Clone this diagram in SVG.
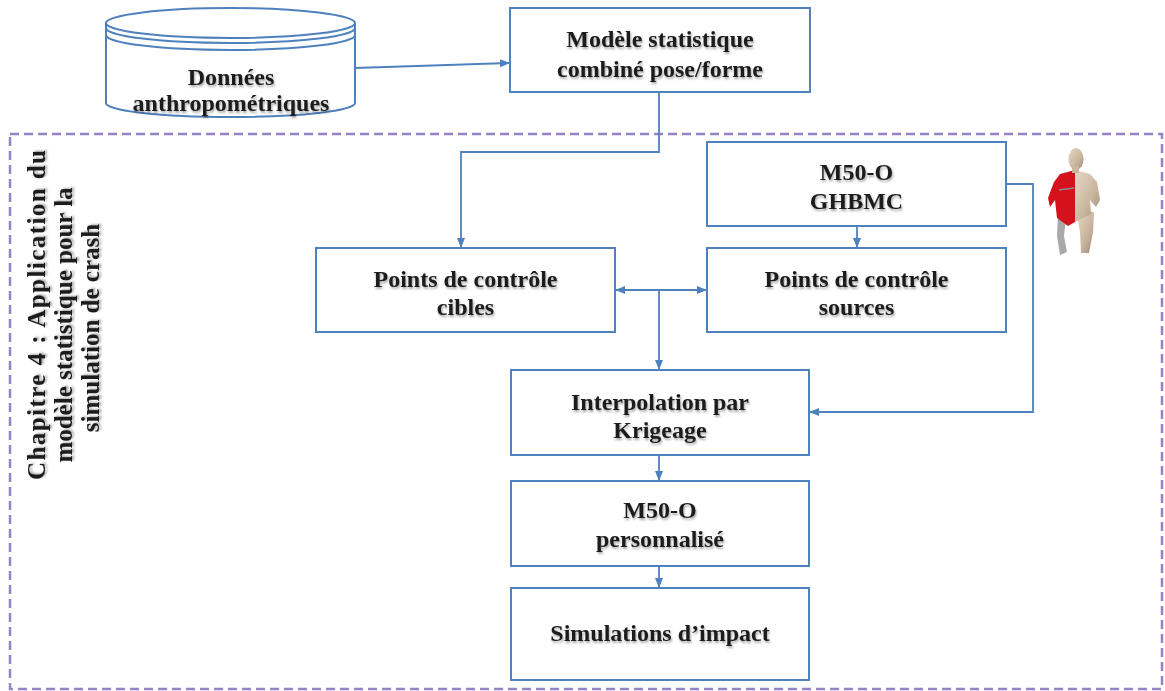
<svg xmlns="http://www.w3.org/2000/svg" width="1165" height="691" viewBox="0 0 1165 691">
  <defs>
    <style>
      .box{fill:#fff;stroke:#4f81bd;stroke-width:2}
      .lbl{font-family:"Liberation Serif","DejaVu Serif",serif;font-weight:bold;font-size:24px;fill:#1c1c1c;text-anchor:middle;filter:url(#shadow)}
      .side{font-size:25px}
      .conn{fill:none;stroke:#4f81bd;stroke-width:1.8}
      .frame{fill:none;stroke:#9583c6;stroke-width:2.5;stroke-dasharray:9 5}
    </style>
    <filter id="shadow" x="-10%" y="-30%" width="120%" height="160%">
      <feDropShadow dx="1" dy="2" stdDeviation="1.2" flood-color="#000" flood-opacity="0.35"/>
    </filter>
    <marker id="arrow" viewBox="0 0 10 8" refX="9" refY="4" markerWidth="10" markerHeight="8" markerUnits="userSpaceOnUse" orient="auto-start-reverse">
      <path d="M0,0 L10,4 L0,8 z" fill="#4f81bd"/>
    </marker>
    <linearGradient id="skin" x1="0" y1="0" x2="1" y2="1">
      <stop offset="0" stop-color="#e6d9c8"/>
      <stop offset="0.6" stop-color="#c9b59d"/>
      <stop offset="1" stop-color="#9c8770"/>
    </linearGradient>
  </defs>

  <!-- chapter frame -->
  <rect class="frame" x="10" y="134" width="1152" height="555"/>
  <g id="chapter-label">
    <text class="lbl side" transform="translate(45,315) rotate(-90)" textLength="330" lengthAdjust="spacing">Chapitre 4 : Application du</text>
    <text class="lbl side" transform="translate(72,325) rotate(-90)">modèle statistique pour la</text>
    <text class="lbl side" transform="translate(99,328) rotate(-90)">simulation de crash</text>
  </g>

  <!-- connectors -->
  <g id="connectors">
    <path class="conn" d="M355,68 L509,63" marker-end="url(#arrow)"/>
    <path class="conn" d="M659,92 V152 H461 V247" marker-end="url(#arrow)"/>
    <path class="conn" d="M857,226 V247" marker-end="url(#arrow)"/>
    <path class="conn" d="M616,290 H706" marker-start="url(#arrow)" marker-end="url(#arrow)"/>
    <path class="conn" d="M659,290 V369" marker-end="url(#arrow)"/>
    <path class="conn" d="M1006,184 H1033 V412 H810" marker-end="url(#arrow)"/>
    <path class="conn" d="M659,455 V480" marker-end="url(#arrow)"/>
    <path class="conn" d="M659,566 V587" marker-end="url(#arrow)"/>
  </g>

  <!-- data store cylinder -->
  <g id="donnees">
    <path class="box" d="M106,23 V103 A124.5,14 0 0 0 355,103 V23"/>
    <ellipse class="box" cx="230.5" cy="23" rx="124.5" ry="15"/>
    <path class="conn" style="stroke-width:2" d="M106,28 A124.5,15 0 0 0 355,28"/>
    <path class="conn" style="stroke-width:2" d="M106,35 A124.5,15 0 0 0 355,35"/>
    <text class="lbl" x="231" y="85">Données</text>
    <text class="lbl" x="231" y="111">anthropométriques</text>
  </g>

  <g id="modele">
    <rect class="box" x="510" y="8" width="300" height="84"/>
    <text class="lbl" x="660" y="47">Modèle statistique</text>
    <text class="lbl" x="660" y="77">combiné pose/forme</text>
  </g>

  <g id="cibles">
    <rect class="box" x="316" y="248" width="299" height="84"/>
    <text class="lbl" x="465.5" y="287">Points de contrôle</text>
    <text class="lbl" x="465.5" y="315">cibles</text>
  </g>

  <g id="ghbmc">
    <rect class="box" x="707" y="142" width="299" height="84"/>
    <text class="lbl" x="856.5" y="180">M50-O</text>
    <text class="lbl" x="856.5" y="209">GHBMC</text>
  </g>

  <g id="sources">
    <rect class="box" x="707" y="248" width="299" height="84"/>
    <text class="lbl" x="856.5" y="287">Points de contrôle</text>
    <text class="lbl" x="856.5" y="315">sources</text>
  </g>

  <g id="krigeage">
    <rect class="box" x="511" y="370" width="298" height="85"/>
    <text class="lbl" x="660" y="410">Interpolation par</text>
    <text class="lbl" x="660" y="438">Krigeage</text>
  </g>

  <g id="personnalise">
    <rect class="box" x="511" y="481" width="298" height="85"/>
    <text class="lbl" x="660" y="518">M50-O</text>
    <text class="lbl" x="660" y="547">personnalisé</text>
  </g>

  <g id="simulations">
    <rect class="box" x="511" y="588" width="298" height="92"/>
    <text class="lbl" x="660" y="641">Simulations d’impact</text>
  </g>

  <!-- human body model figure -->
  <g id="human-model">
    <!-- grey skeletal leg -->
    <path d="M1058,214 L1066,218 L1064,236 L1067,252 L1060,255 L1057,236 Z" fill="#a9a9a9"/>
    <!-- tan leg -->
    <path d="M1076,210 L1094,212 L1093,232 L1089,253 L1081,253 L1080,232 Z" fill="url(#skin)"/>
    <!-- tan torso half and bent arm -->
    <path d="M1075,170 L1090,174 L1097,182 L1100,200 L1096,207 L1090,200 L1091,214 L1075,222 Z" fill="url(#skin)"/>
    <!-- red muscle half -->
    <path d="M1075,170 L1060,174 L1054,182 L1048,198 L1050,207 L1055,200 L1057,218 L1068,226 L1075,222 Z" fill="#d4111d"/>
    <path d="M1059,190 L1074,188" stroke="#8c8c8c" stroke-width="1.5" fill="none"/>
    <!-- head -->
    <ellipse cx="1076" cy="159" rx="7.5" ry="11" fill="url(#skin)"/>
    <rect x="1072" y="166" width="7" height="7" fill="#c9b59d"/>
  </g>
</svg>
